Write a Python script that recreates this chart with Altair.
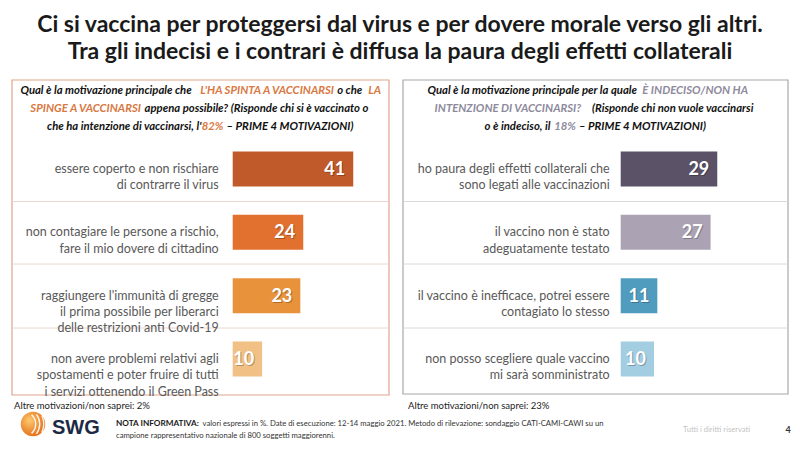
import altair as alt
import pandas as pd

# ---------------- data ----------------
rank = [1, 2, 3, 4]
left_labels = [
    "essere coperto e non rischiare\ndi contrarre il virus",
    "non contagiare le persone a rischio,\nfare il mio dovere di cittadino",
    "raggiungere l'immunità di gregge\nil prima possibile per liberarci\ndelle restrizioni anti Covid-19",
    "non avere problemi relativi agli\nspostamenti e poter fruire di tutti\ni servizi ottenendo il Green Pass",
]
left_values = [41, 24, 23, 10]
left_colors = ["#c15a2a", "#e2702f", "#e8923c", "#f1c084"]

right_labels = [
    "ho paura degli effetti collaterali che\nsono legati alle vaccinazioni",
    "il vaccino non è stato\nadeguatamente testato",
    "il vaccino è inefficace, potrei essere\ncontagiato lo stesso",
    "non posso scegliere quale vaccino\nmi sarà somministrato",
]
right_values = [29, 27, 11, 10]
right_colors = ["#5b5267", "#aba3b4", "#509cbe", "#a3cde1"]

title_lines = [
    "Ci si vaccina per proteggersi dal virus e per dovere morale verso gli altri.",
    "Tra gli indecisi e i contrari è diffusa la paura degli effetti collaterali",
]
# header segments: (text, highlighted?, space before?)
left_header = [
    [("Qual è la motivazione principale che", False, False), ("L'HA SPINTA A VACCINARSI", True, True),
     ("o che", False, True), ("LA", True, True)],
    [("SPINGE A VACCINARSI", True, False), ("appena possibile? (Risponde chi si è vaccinato o", False, True)],
    [("che ha intenzione di vaccinarsi, l'", False, False), ("82%", True, False),
     ("– PRIME 4 MOTIVAZIONI)", False, True)],
]
right_header = [
    [("Qual è la motivazione principale per la quale", False, False), ("È INDECISO/NON HA", True, True)],
    [("INTENZIONE DI VACCINARSI?", True, False), ("(Risponde chi non vuole vaccinarsi", False, True)],
    [("o è indeciso, il", False, False), ("18%", True, True), ("– PRIME 4 MOTIVAZIONI)", False, True)],
]
left_other = "Altre motivazioni/non saprei: 2%"
right_other = "Altre motivazioni/non saprei: 23%"
note_bold = "NOTA INFORMATIVA:"
note_1 = "valori espressi in %. Date di esecuzione: 12-14 maggio 2021. Metodo di rilevazione: sondaggio CATI-CAMI-CAWI su un"
note_2 = "campione rappresentativo nazionale di 800 soggetti maggiorenni."
rights = "Tutti i diritti riservati"
page_no = "4"
brand = "SWG"

# ---------------- layout / style ----------------
FONT = "Lato"
W, H = 784, 434
ONE = pd.DataFrame({"a": [0]})

# approximate rendered widths of the header segments at 11px (layout constants)
left_w11 = [[172, 130, 27, 14], [108, 222], [150.5, 21, 126]]
right_w11 = [[206, 120], [150, 162], [64.5, 21, 126]]
HEAD_SIZE = 11.3
SPACE11 = 3.2

left_df = pd.DataFrame({"rank": rank, "label": left_labels, "value": left_values, "color": left_colors})
right_df = pd.DataFrame({"rank": rank, "label": right_labels, "value": right_values, "color": right_colors})

yscale = alt.Scale(domain=rank, range=[129.3, 382.7], paddingInner=0.447, paddingOuter=0.2235)
Y = alt.Y("rank:O", scale=yscale, axis=None)


def xs(start, ppu):
    return alt.Scale(domain=[0, 50], range=[start, start + 50 * ppu])


def panel(df, start, ppu, label_dx):
    sc = xs(start, ppu)
    bars = alt.Chart(df).mark_bar().encode(
        x=alt.X("value:Q", scale=sc, axis=None),
        y=Y,
        color=alt.Color("color:N", scale=None, legend=None),
    )
    shadow = alt.Chart(df).mark_text(
        align="right", baseline="middle", dx=-7, dy=2, font=FONT, fontSize=18,
        fontWeight="bold", color="#000000", opacity=0.25,
    ).encode(x=alt.X("value:Q", scale=sc, axis=None), y=Y, text="value:Q")
    vals = alt.Chart(df).mark_text(
        align="right", baseline="middle", dx=-8, dy=1, font=FONT, fontSize=18,
        fontWeight="bold", color="white",
    ).encode(x=alt.X("value:Q", scale=sc, axis=None), y=Y, text="value:Q")
    labs = alt.Chart(df).mark_text(
        align="right", baseline="middle", dx=label_dx, font=FONT, fontSize=12.5,
        color="#595959", lineBreak="\n", lineHeight=16.3,
    ).encode(x=alt.X("zero:Q", scale=sc, axis=None), y=Y, text="label:N").transform_calculate(zero="0")
    return [bars, shadow, vals, labs]


def txt(s, x, y, size, color, weight="normal", style="normal", align="left", font=FONT):
    return alt.Chart(ONE).mark_text(
        text=s, fontSize=size, color=color, fontWeight=weight, fontStyle=style,
        align=align, baseline="middle", font=font,
    ).encode(x=alt.value(x), y=alt.value(y))


def box(x1, x2, y1, y2, stroke):
    return alt.Chart(ONE).mark_rect(fill="white", stroke=stroke, strokeWidth=1.2).encode(
        x=alt.value(x1), x2=alt.value(x2), y=alt.value(y1), y2=alt.value(y2))


def hline(x1, x2, y, color):
    return alt.Chart(ONE).mark_rule(color=color, strokeWidth=1).encode(
        x=alt.value(x1), x2=alt.value(x2), y=alt.value(y))


layers = []
# boxes
layers.append(box(4, 381, 72, 387, "#dfa58d"))
layers.append(box(395, 780, 72, 386, "#a8a8a8"))
for yy in [193.5, 256, 320]:
    layers.append(hline(4.5, 380.5, yy, "#edd6cd"))
    layers.append(hline(395.5, 779.5, yy, "#dadada"))

# title
layers.append(txt(title_lines[0], 392, 17, 23, "#1a1a1a", weight="bold", align="center"))
layers.append(txt(title_lines[1], 392, 44, 23, "#1a1a1a", weight="bold", align="center"))

# headers (segments chained and centred in each box)
header_y = [82.7, 100.5, 118.7]
k = HEAD_SIZE / 11.0
for segs, widths, cx, hc in [(left_header, left_w11, 193.5, "#d9783f"),
                             (right_header, right_w11, 588.5, "#8d8a9c")]:
    for li, line in enumerate(segs):
        total = sum(w * k for w in widths[li]) + sum(SPACE11 * k for s in line if s[2])
        x = cx - total / 2
        for (s, hi, sp), w in zip(line, widths[li]):
            if sp:
                x += SPACE11 * k
            layers.append(txt(s, x, header_y[li], HEAD_SIZE, hc if hi else "#111111",
                              weight="bold", style="italic"))
            x += w * k

# panels
layers += panel(left_df, 224.7, 2.94, -14)
layers += panel(right_df, 612.7, 3.33, -11)

# footer
layers.append(txt(left_other, 6, 397.5, 9.5, "#222222"))
layers.append(txt(right_other, 400, 397.5, 9.5, "#222222"))

logo_fill = {"gradient": "radial", "x1": 0.35, "y1": 0.35, "r1": 0.05, "x2": 0.4, "y2": 0.4, "r2": 0.7,
             "stops": [{"offset": 0, "color": "#fbc36a"}, {"offset": 1, "color": "#e2660f"}]}
layers.append(alt.Chart(ONE).mark_circle(size=600, opacity=1, fill=logo_fill).encode(
    x=alt.value(25), y=alt.value(416)))
for r, t0, t1 in [(12, 0.75, 2.4), (16, 0.95, 2.2), (20, 1.15, 2.0)]:
    layers.append(alt.Chart(ONE).mark_arc(innerRadius=r, outerRadius=r + 1.4, theta=t0, theta2=t1,
                                          color="white", opacity=0.9).encode(
        x=alt.value(15), y=alt.value(416)))
layers.append(txt(brand, 44, 420, 20, "#1d2a44", weight="bold", font="'Liberation Sans', Arial, sans-serif"))

layers.append(txt(note_bold, 108, 415.5, 8.2, "#1a1a1a", weight="bold"))
layers.append(txt(note_1, 194.5, 415.5, 7.7, "#333333"))
layers.append(txt(note_2, 108, 428, 7.7, "#333333"))
layers.append(txt(rights, 675, 422, 7.6, "#c4c4c4"))
layers.append(txt(page_no, 780, 422, 9, "#333333", weight="bold", align="center"))

chart = alt.layer(*layers).resolve_scale(x="independent").properties(
    width=W, height=H, padding=0, autosize="none", background="white"
).configure_view(stroke=None)

chart.save("out.html", embed_options={"renderer": "svg", "actions": False})
